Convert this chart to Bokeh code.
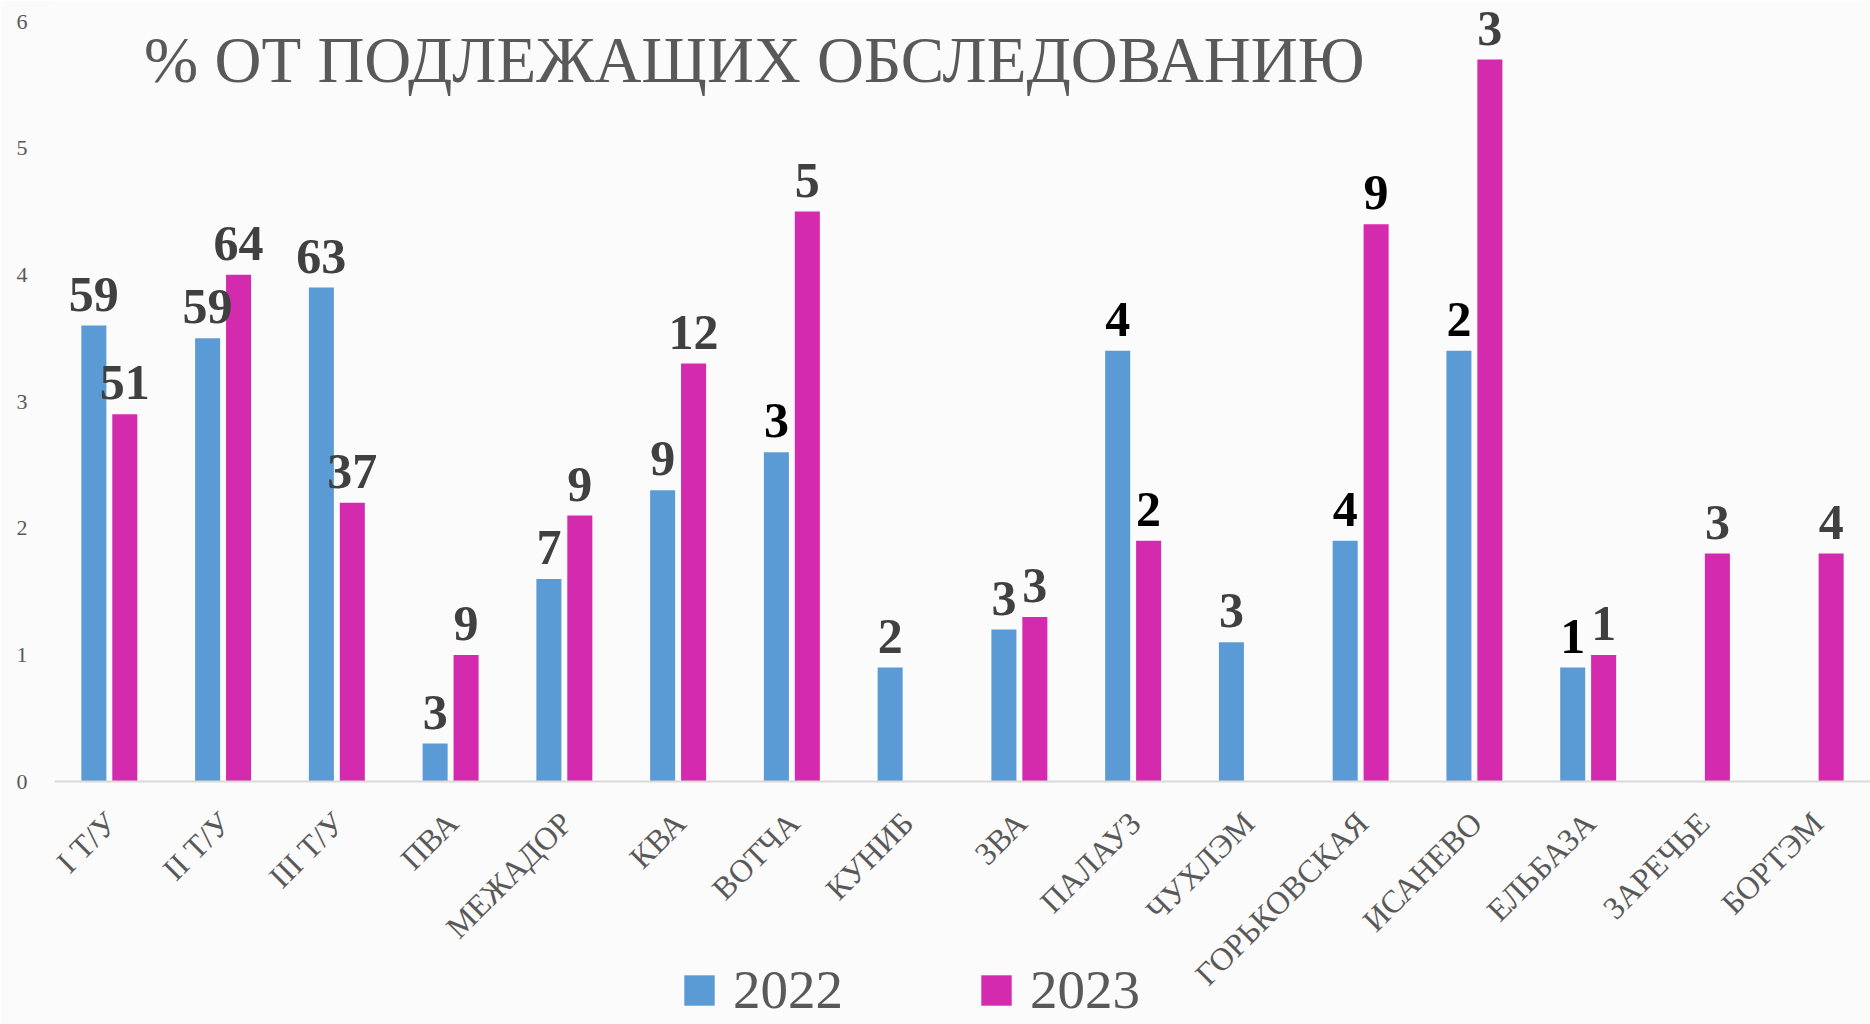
import math
from bokeh.plotting import figure
from bokeh.models import (ColumnDataSource, FactorRange, LabelSet, Label, Legend, LegendItem,
                          Range1d, FixedTicker, Span)
from bokeh.transform import dodge
from bokeh.core.properties import value
from bokeh.embed import file_html
from bokeh.resources import INLINE

categories = ["I Т/У", "II Т/У", "III Т/У", "ПВА", "МЕЖАДОР", "КВА", "ВОТЧА", "КУНИБ",
              "ЗВА", "ПАЛАУЗ", "ЧУХЛЭМ", "ГОРЬКОВСКАЯ", "ИСАНЕВО", "ЕЛЬБАЗА", "ЗАРЕЧЬЕ", "БОРТЭМ"]

pct_2022 = [3.6, 3.5, 3.9, 0.3, 1.6, 2.3, 2.6, 0.9, 1.2, 3.4, 1.1, 1.9, 3.4, 0.9, None, None]
pct_2023 = [2.9, 4.0, 2.2, 1.0, 2.1, 3.3, 4.5, None, 1.3, 1.9, None, 4.4, 5.7, 1.0, 1.8, 1.8]

count_2022 = [59, 59, 63, 3, 7, 9, 3, 2, 3, 4, 3, 4, 2, 1, None, None]
count_2023 = [51, 64, 37, 9, 9, 12, 5, None, 3, 2, None, 9, 3, 1, 3, 4]

y_ticks = [0, 1, 2, 3, 4, 5, 6]

# label colours (styling): some labels in the original are black, others dark grey
DARK = "#404040"
BLACK = "#000000"
label_color_2022 = [DARK, DARK, DARK, DARK, DARK, DARK, BLACK, DARK, DARK, BLACK, DARK, BLACK, BLACK, BLACK, DARK, DARK]
label_color_2023 = [DARK, DARK, DARK, DARK, DARK, DARK, DARK, DARK, DARK, BLACK, DARK, BLACK, DARK, DARK, DARK, DARK]

BLUE = "#5B9BD5"
MAGENTA = "#D42AAE"
GREY = "#595959"
BG = "#fbfbfb"
SERIF = "Liberation Serif"


def make_source(vals, counts, colors):
    c, v, t, col = [], [], [], []
    for cat, val, cnt, cc in zip(categories, vals, counts, colors):
        if val is None:
            continue
        c.append(cat)
        v.append(val)
        t.append(str(cnt))
        col.append(cc)
    return ColumnDataSource(dict(cat=c, val=v, txt=t, col=col))


src22 = make_source(pct_2022, count_2022, label_color_2022)
src23 = make_source(pct_2023, count_2023, label_color_2023)
src_cat = ColumnDataSource(dict(cat=categories, base=[0] * len(categories)))

p = figure(x_range=FactorRange(*categories, range_padding=-0.018, range_padding_units="absolute"),
           y_range=Range1d(-1.918, 6.166),
           width=1870, height=1024, output_backend="svg", toolbar_location=None,
           min_border_left=54, min_border_right=0, min_border_top=0, min_border_bottom=0)
p.background_fill_color = BG
p.border_fill_color = BG
p.outline_line_color = None
p.xgrid.grid_line_color = None
p.ygrid.grid_line_color = None
p.xaxis.visible = False

# baseline at zero
p.add_layout(Span(location=0, dimension="width", line_color="#d9d9d9", line_width=2))

OFF = 0.136
W = 0.22
r22 = p.vbar(x=dodge("cat", -OFF, range=p.x_range), top="val", width=W, source=src22,
             fill_color=BLUE, line_color=None)
r23 = p.vbar(x=dodge("cat", OFF, range=p.x_range), top="val", width=W, source=src23,
             fill_color=MAGENTA, line_color=None)

for src, off in ((src22, -OFF), (src23, OFF)):
    ls = LabelSet(x=dodge("cat", off, range=p.x_range), y="val", text="txt", source=src,
                  text_align="center", text_baseline="alphabetic", y_offset=15,
                  text_font=SERIF, text_font_size="50px", text_font_style="bold",
                  text_color="col")
    p.add_layout(ls)

# category labels under the baseline, rotated like the original axis labels
p.text(x="cat", y="base", text="cat", source=src_cat, angle=math.radians(45),
       text_align="right", text_baseline="middle", x_offset=2, y_offset=36,
       text_font=value(SERIF), text_font_size="32px", text_color=GREY)

title = Label(x=6.17, y=5.70, text="% ОТ ПОДЛЕЖАЩИХ ОБСЛЕДОВАНИЮ", text_align="center",
              text_baseline="alphabetic", text_font=SERIF, text_font_size="65px",
              text_color=GREY)
p.add_layout(title)

# y axis
p.yaxis.ticker = FixedTicker(ticks=y_ticks)
p.yaxis.axis_line_color = None
p.yaxis.major_tick_line_color = None
p.yaxis.minor_tick_line_color = None
p.yaxis.major_label_text_font = SERIF
p.yaxis.major_label_text_font_size = "22px"
p.yaxis.major_label_text_color = GREY
p.yaxis.major_label_standoff = 21

legend = Legend(items=[LegendItem(label="2022", renderers=[r22]),
                       LegendItem(label="2023", renderers=[r23])],
                orientation="horizontal", location=(626, 3),
                glyph_width=38, glyph_height=38, label_standoff=15, spacing=134,
                padding=0, margin=0, border_line_color=None, background_fill_alpha=0,
                label_text_font=SERIF, label_text_font_size="55px", label_text_color=GREY)
p.add_layout(legend)

open("out.html", "w").write(file_html(p, INLINE))
